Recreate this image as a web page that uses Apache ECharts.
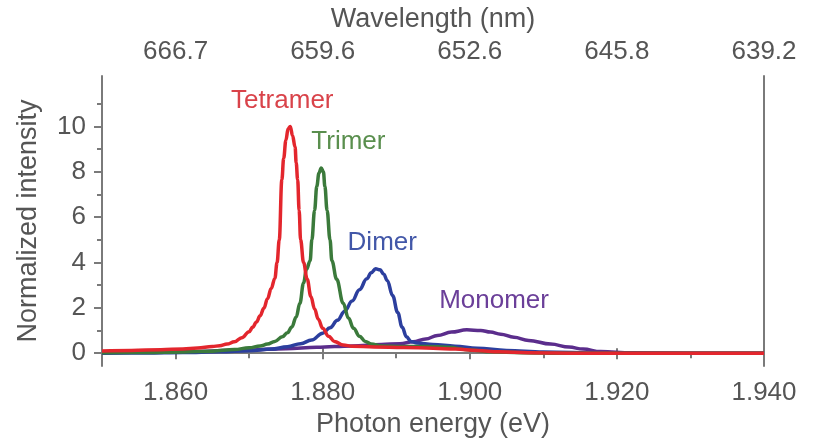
<!DOCTYPE html>
<html>
<head>
<meta charset="utf-8">
<script src="https://cdn.jsdelivr.net/npm/echarts@6/dist/echarts.min.js"></script>
<style>html,body{margin:0;padding:0;background:#fff}#c{width:825px;height:443px}</style>
</head>
<body>
<div id="c"></div>
<script>
// ---- data ----
const energyMajor = [1.86, 1.88, 1.90, 1.92, 1.94];
const energyMinor = [1.87, 1.89, 1.91, 1.93];
const energyLabels = ['1.860', '1.880', '1.900', '1.920', '1.940'];
const wavelengthLabels = ['666.7', '659.6', '652.6', '645.8', '639.2'];
const intensityMajor = [0, 2, 4, 6, 8, 10];
const intensityMinor = [1, 3, 5, 7, 9, 11];
const intensityLabels = ['0', '2', '4', '6', '8', '10'];

const seriesNames = ['Monomer', 'Dimer', 'Trimer', 'Tetramer'];

const monomer = [
  [1.850,0.03],[1.860,0.06],[1.870,0.14],[1.875,0.2],[1.8792,0.26],[1.884,0.32],[1.888,0.38],
  [1.8905,0.42],[1.8923,0.5],[1.894,0.63],[1.8956,0.78],[1.8975,0.93],[1.8996,1.03],[1.9015,1.0],
  [1.9028,0.93],[1.9042,0.84],[1.906,0.7],[1.908,0.56],[1.911,0.4],[1.9135,0.27],[1.9154,0.18],
  [1.9178,0.07],[1.922,0.02],[1.930,0.0],[1.940,0.0]
];
const dimer = [
  [1.850,0.0],[1.856,0.01],[1.861,0.03],[1.866,0.06],[1.870,0.11],[1.873,0.18],[1.8752,0.28],
  [1.877,0.42],[1.8785,0.58],[1.880,0.88],[1.881,1.12],[1.882,1.45],[1.883,1.85],[1.884,2.3],
  [1.885,2.8],[1.886,3.28],[1.8866,3.55],[1.8872,3.72],[1.8878,3.68],[1.8883,3.48],[1.8888,3.2],
  [1.8895,2.55],[1.8902,1.8],[1.8908,1.15],[1.8914,0.72],[1.892,0.52],[1.8928,0.45],[1.895,0.38],
  [1.898,0.31],[1.901,0.22],[1.905,0.12],[1.910,0.05],[1.918,0.0],[1.940,0.0]
];
const trimer = [
  [1.850,0.02],[1.856,0.03],[1.861,0.05],[1.865,0.09],[1.868,0.16],[1.870,0.24],[1.8715,0.32],
  [1.8725,0.40],[1.8735,0.52],[1.8745,0.72],[1.8752,0.9],[1.8758,1.15],[1.8764,1.6],[1.8769,2.2],
  [1.8774,3.1],[1.8778,3.7],[1.8783,4.08],[1.87853,5.0],[1.8789,6.3],[1.8792,7.36],[1.8795,7.95],
  [1.8798,8.17],[1.8801,8.0],[1.8803,7.36],[1.8806,6.3],[1.8810,5.0],[1.88125,4.08],[1.8819,3.26],
  [1.8828,2.2],[1.8835,1.55],[1.8842,1.1],[1.885,0.75],[1.8858,0.52],[1.8866,0.40],[1.888,0.32],
  [1.891,0.29],[1.894,0.30],[1.897,0.26],[1.900,0.14],[1.903,0.06],[1.907,0.02],[1.912,0.0],[1.940,0.0]
];
const tetramer = [
  [1.850,0.10],[1.854,0.12],[1.858,0.15],[1.861,0.19],[1.863,0.23],[1.865,0.29],[1.866,0.33],
  [1.867,0.40],[1.868,0.50],[1.869,0.68],[1.870,0.95],[1.8705,1.15],[1.871,1.38],[1.8715,1.65],
  [1.872,1.98],[1.8725,2.4],[1.873,2.85],[1.8735,3.3],[1.8738,4.0],[1.8741,5.0],[1.87445,7.65],
  [1.8747,8.6],[1.8750,9.4],[1.8753,9.9],[1.8756,10.0],[1.8759,9.6],[1.87625,9.1],[1.8764,8.4],
  [1.8766,7.65],[1.8768,6.3],[1.8770,5.0],[1.8774,4.0],[1.8779,3.26],[1.8784,2.5],[1.8789,1.95],
  [1.8794,1.5],[1.8800,1.1],[1.8808,0.75],[1.8816,0.52],[1.8828,0.36],[1.884,0.31],[1.887,0.27],
  [1.891,0.25],[1.895,0.22],[1.898,0.18],[1.901,0.12],[1.904,0.06],[1.908,0.02],[1.915,0.0],[1.940,0.0]
];
// label anchor points (data coordinates)
const labelPos = {
  Monomer: [1.9033, 2.29],
  Dimer: [1.8881, 4.88],
  Trimer: [1.8835, 9.34],
  Tetramer: [1.8745, 11.13]
};

// ---- styles ----
const FONT = "'Liberation Sans', Arial, sans-serif";
const TXT = '#555';
const AX = '#7a7a7a';
const lineColors = { Monomer: '#5b2d8c', Dimer: '#2c3f9e', Trimer: '#3b7a3b', Tetramer: '#e3262d' };
const textColors = { Monomer: '#6b3f99', Dimer: '#4257a8', Trimer: '#5a8f4e', Tetramer: '#d9434a' };
const seriesData = { Monomer: monomer, Dimer: dimer, Trimer: trimer, Tetramer: tetramer };

const chart = echarts.init(document.getElementById('c'), null, { renderer: 'canvas' });

const XMIN = 1.85, XMAX = 1.94, YMIN = -0.57, YMAX = 12.23;

const option = {
  backgroundColor: '#fff',
  animation: false,
  textStyle: { fontFamily: FONT },
  grid: { left: 102, right: 61, top: 76, bottom: 76, containLabel: false },
  xAxis: [
    {
      type: 'value', min: XMIN, max: XMAX, position: 'bottom',
      splitLine: { show: false },
      axisLine: { show: true, lineStyle: { color: AX, width: 2 } },
      axisTick: { show: true, customValues: energyMajor, length: 6, lineStyle: { color: AX, width: 2 } },
      axisLabel: {
        show: true, customValues: energyMajor, margin: 14,
        formatter: v => energyLabels[energyMajor.findIndex(e => Math.abs(e - v) < 1e-6)] || '',
        fontSize: 26, color: TXT, fontFamily: FONT
      },
      name: 'Photon energy (eV)', nameLocation: 'middle', nameGap: 42,
      nameTextStyle: { fontSize: 27, color: TXT, fontFamily: FONT }
    },
    {
      type: 'value', min: XMIN, max: XMAX, position: 'bottom',
      splitLine: { show: false },
      axisLine: { show: false },
      axisTick: { show: true, customValues: energyMinor, length: 5, lineStyle: { color: AX, width: 2 } },
      axisLabel: { show: false }
    },
    {
      type: 'value', min: XMIN, max: XMAX, position: 'top',
      splitLine: { show: false },
      axisLine: { show: true, lineStyle: { color: AX, width: 2 } },
      axisTick: { show: true, customValues: energyMajor, length: 5, lineStyle: { color: AX, width: 2 } },
      axisLabel: {
        show: true, customValues: energyMajor, margin: 11,
        formatter: v => wavelengthLabels[energyMajor.findIndex(e => Math.abs(e - v) < 1e-6)] || '',
        fontSize: 26, color: TXT, fontFamily: FONT
      },
      name: 'Wavelength (nm)', nameLocation: 'middle', nameGap: 43,
      nameTextStyle: { fontSize: 27, color: TXT, fontFamily: FONT }
    }
  ],
  yAxis: [
    {
      type: 'value', min: YMIN, max: YMAX, position: 'left',
      splitLine: { show: false },
      axisLine: { show: true, lineStyle: { color: AX, width: 2 } },
      axisTick: { show: true, customValues: intensityMajor, length: 8, lineStyle: { color: AX, width: 2 } },
      axisLabel: {
        show: true, customValues: intensityMajor, margin: 16,
        formatter: v => intensityLabels[intensityMajor.findIndex(e => Math.abs(e - v) < 1e-6)] || '',
        fontSize: 26, color: TXT, fontFamily: FONT
      },
      name: 'Normalized intensity', nameLocation: 'middle', nameGap: 52,
      nameTextStyle: { fontSize: 27, color: TXT, fontFamily: FONT, padding: [0, 0, 8, 0] }
    },
    {
      type: 'value', min: YMIN, max: YMAX, position: 'left',
      splitLine: { show: false },
      axisLine: { show: false },
      axisTick: { show: true, customValues: intensityMinor, length: 5, lineStyle: { color: AX, width: 2 } },
      axisLabel: { show: false }
    },
    {
      type: 'value', min: YMIN, max: YMAX, position: 'right',
      splitLine: { show: false },
      axisLine: { show: true, lineStyle: { color: AX, width: 2 } },
      axisTick: { show: false },
      axisLabel: { show: false }
    }
  ],
  series: seriesNames.map(name => ({
    name: name,
    type: 'line',
    xAxisIndex: 0, yAxisIndex: 0,
    data: seriesData[name],
    showSymbol: false,
    smooth: 0.4,
    smoothMonotone: 'x',
    lineStyle: { color: lineColors[name], width: 3.5 },
    itemStyle: { color: lineColors[name] },
    markPoint: {
      symbol: 'circle', symbolSize: 0,
      silent: true,
      data: [{ coord: labelPos[name], value: name }],
      label: {
        show: true, position: 'inside', formatter: name,
        color: textColors[name], fontSize: 26, fontFamily: FONT,
        align: 'center', verticalAlign: 'middle'
      }
    }
  }))
};
chart.setOption(option);
</script>
</body>
</html>
